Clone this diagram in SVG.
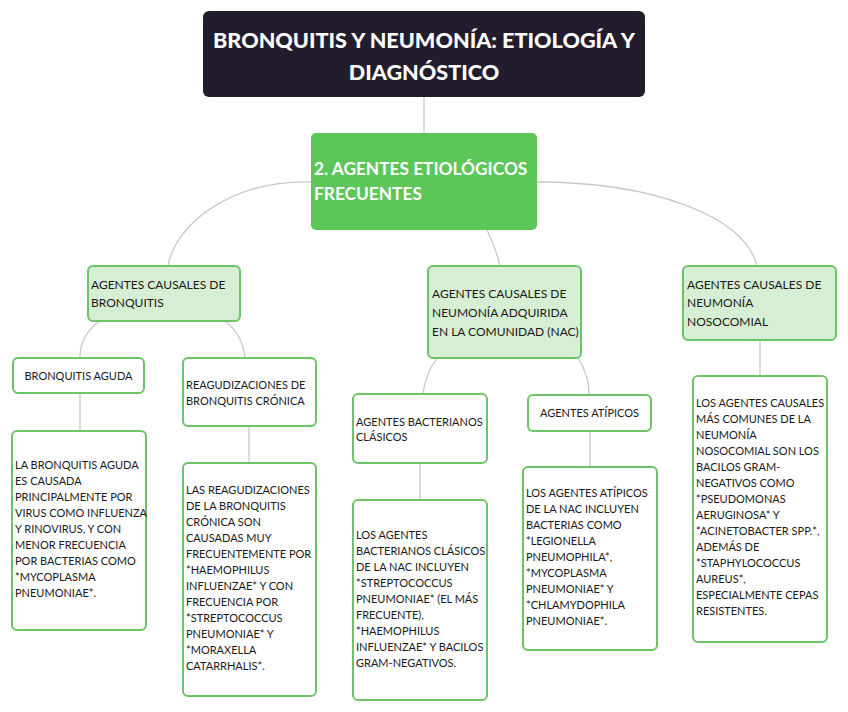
<svg xmlns="http://www.w3.org/2000/svg" width="848" height="712" viewBox="0 0 848 712">
<style>
text{font-family:Lato,"Noto Sans","Liberation Sans",sans-serif;fill:#1a1a1a}
.title{font-size:21.6px;font-weight:900;fill:#fff}
.main{font-size:17.3px;font-weight:700;fill:#fff}
.sub{font-size:12px}
.body{font-size:11px}
.lg{fill:#d6eed3;stroke:#6cc466;stroke-width:2}
.wb{fill:#fff;stroke:#6cc466;stroke-width:2}
.con{fill:none;stroke:#c8c8c8;stroke-width:1.3}
</style>
<rect width="848" height="712" fill="#fff"/>
<g id="connectors">
<path class="con" d="M424,97 V133"/>
<path class="con" d="M311,182 C230,180 175,225 168,266"/>
<path class="con" d="M537,182 C650,182 745,215 757,266"/>
<path class="con" d="M487,230 Q496,248 500,266"/>
<path class="con" d="M100,321 Q80,335 80,358"/>
<path class="con" d="M225,321 Q243,335 245,358"/>
<path class="con" d="M80,393 V431"/>
<path class="con" d="M249,426 V463"/>
<path class="con" d="M437,358 Q425,375 423,394"/>
<path class="con" d="M578,358 Q589,375 589,395"/>
<path class="con" d="M420,463 V500"/>
<path class="con" d="M590,431 V467"/>
<path class="con" d="M760,340 V376"/>
</g>
<g id="title">
<rect x="203" y="11" width="442" height="86" rx="6" fill="#221c2c"/>
<text class="title" x="424" y="48" text-anchor="middle">BRONQUITIS Y NEUMONÍA: ETIOLOGÍA Y</text>
<text class="title" x="424" y="80" text-anchor="middle">DIAGNÓSTICO</text>
</g>
<g id="agentes">
<rect x="311" y="133" width="226" height="97" rx="5" fill="#5cc658"/>
<text class="main" x="314" y="175">2. AGENTES ETIOLÓGICOS</text>
<text class="main" x="314" y="200">FRECUENTES</text>
</g>
<g id="bronquitis">
<rect class="lg" x="88" y="266" width="152" height="55" rx="5"/>
<text class="sub" x="91" y="289">AGENTES CAUSALES DE</text>
<text class="sub" x="91" y="307">BRONQUITIS</text>
</g>
<g id="nac">
<rect class="lg" x="428" y="266" width="153" height="92" rx="5"/>
<text class="sub" x="432" y="298">AGENTES CAUSALES DE</text>
<text class="sub" x="432" y="317">NEUMONÍA ADQUIRIDA</text>
<text class="sub" x="432" y="336">EN LA COMUNIDAD (NAC)</text>
</g>
<g id="nosocomial">
<rect class="lg" x="683" y="266" width="153" height="74" rx="5"/>
<text class="sub" x="687" y="289">AGENTES CAUSALES DE</text>
<text class="sub" x="687" y="307">NEUMONÍA</text>
<text class="sub" x="687" y="326">NOSOCOMIAL</text>
</g>
<g id="aguda">
<rect class="wb" x="13" y="358" width="131" height="35" rx="5"/>
<text class="body" x="78.500" y="380" text-anchor="middle">BRONQUITIS AGUDA</text>
</g>
<g id="reagudizaciones">
<rect class="wb" x="183" y="358" width="133" height="68" rx="5"/>
<text class="body" x="186" y="389">REAGUDIZACIONES DE</text>
<text class="body" x="186" y="405">BRONQUITIS CRÓNICA</text>
</g>
<g id="bacterianos">
<rect class="wb" x="353" y="394" width="134" height="69" rx="5"/>
<text class="body" x="356" y="426">AGENTES BACTERIANOS</text>
<text class="body" x="356" y="441">CLÁSICOS</text>
</g>
<g id="atipicos">
<rect class="wb" x="528" y="395" width="123" height="36" rx="5"/>
<text class="body" x="589.500" y="417" text-anchor="middle">AGENTES ATÍPICOS</text>
</g>
<g id="aguda-desc">
<rect class="wb" x="12" y="431" width="134" height="199" rx="5"/>
<text class="body" x="15" y="469">LA BRONQUITIS AGUDA</text>
<text class="body" x="15" y="485">ES CAUSADA</text>
<text class="body" x="15" y="501">PRINCIPALMENTE POR</text>
<text class="body" x="15" y="517">VIRUS COMO INFLUENZA</text>
<text class="body" x="15" y="533">Y RINOVIRUS, Y CON</text>
<text class="body" x="15" y="549">MENOR FRECUENCIA</text>
<text class="body" x="15" y="565">POR BACTERIAS COMO</text>
<text class="body" x="15" y="581">*MYCOPLASMA</text>
<text class="body" x="15" y="597">PNEUMONIAE*.</text>
</g>
<g id="reagudizaciones-desc">
<rect class="wb" x="183" y="463" width="133" height="233" rx="5"/>
<text class="body" x="186" y="494">LAS REAGUDIZACIONES</text>
<text class="body" x="186" y="510">DE LA BRONQUITIS</text>
<text class="body" x="186" y="526">CRÓNICA SON</text>
<text class="body" x="186" y="542">CAUSADAS MUY</text>
<text class="body" x="186" y="558">FRECUENTEMENTE POR</text>
<text class="body" x="186" y="574">*HAEMOPHILUS</text>
<text class="body" x="186" y="590">INFLUENZAE* Y CON</text>
<text class="body" x="186" y="606">FRECUENCIA POR</text>
<text class="body" x="186" y="622">*STREPTOCOCCUS</text>
<text class="body" x="186" y="638">PNEUMONIAE* Y</text>
<text class="body" x="186" y="654">*MORAXELLA</text>
<text class="body" x="186" y="670">CATARRHALIS*.</text>
</g>
<g id="bacterianos-desc">
<rect class="wb" x="353" y="500" width="134" height="200" rx="5"/>
<text class="body" x="356" y="539">LOS AGENTES</text>
<text class="body" x="356" y="555">BACTERIANOS CLÁSICOS</text>
<text class="body" x="356" y="571">DE LA NAC INCLUYEN</text>
<text class="body" x="356" y="587">*STREPTOCOCCUS</text>
<text class="body" x="356" y="603">PNEUMONIAE* (EL MÁS</text>
<text class="body" x="356" y="619">FRECUENTE),</text>
<text class="body" x="356" y="635">*HAEMOPHILUS</text>
<text class="body" x="356" y="651">INFLUENZAE* Y BACILOS</text>
<text class="body" x="356" y="667">GRAM-NEGATIVOS.</text>
</g>
<g id="atipicos-desc">
<rect class="wb" x="523" y="467" width="134" height="183" rx="5"/>
<text class="body" x="526" y="497">LOS AGENTES ATÍPICOS</text>
<text class="body" x="526" y="513">DE LA NAC INCLUYEN</text>
<text class="body" x="526" y="529">BACTERIAS COMO</text>
<text class="body" x="526" y="545">*LEGIONELLA</text>
<text class="body" x="526" y="561">PNEUMOPHILA*,</text>
<text class="body" x="526" y="577">*MYCOPLASMA</text>
<text class="body" x="526" y="593">PNEUMONIAE* Y</text>
<text class="body" x="526" y="609">*CHLAMYDOPHILA</text>
<text class="body" x="526" y="625">PNEUMONIAE*.</text>
</g>
<g id="nosocomial-desc">
<rect class="wb" x="693" y="376" width="134" height="266" rx="5"/>
<text class="body" x="696" y="407">LOS AGENTES CAUSALES</text>
<text class="body" x="696" y="423">MÁS COMUNES DE LA</text>
<text class="body" x="696" y="439">NEUMONÍA</text>
<text class="body" x="696" y="455">NOSOCOMIAL SON LOS</text>
<text class="body" x="696" y="471">BACILOS GRAM-</text>
<text class="body" x="696" y="487">NEGATIVOS COMO</text>
<text class="body" x="696" y="503">*PSEUDOMONAS</text>
<text class="body" x="696" y="519">AERUGINOSA* Y</text>
<text class="body" x="696" y="535">*ACINETOBACTER SPP.*,</text>
<text class="body" x="696" y="551">ADEMÁS DE</text>
<text class="body" x="696" y="567">*STAPHYLOCOCCUS</text>
<text class="body" x="696" y="583">AUREUS*,</text>
<text class="body" x="696" y="599">ESPECIALMENTE CEPAS</text>
<text class="body" x="696" y="615">RESISTENTES.</text>
</g>
</svg>
